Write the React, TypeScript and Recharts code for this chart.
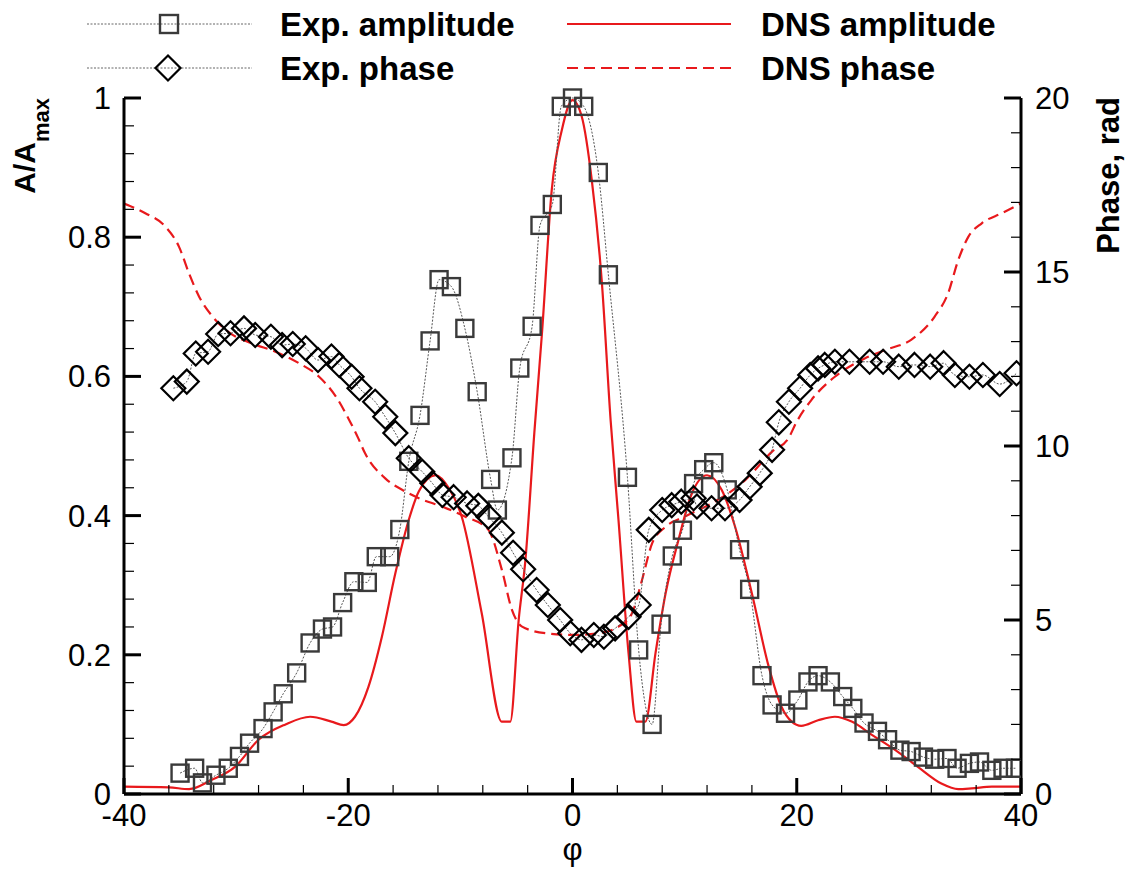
import { ComposedChart, Line, XAxis, YAxis, Legend } from 'recharts';

if (typeof document !== 'undefined') document.body.style.margin = '0';

const FONT = "'Liberation Sans', Arial, Helvetica, sans-serif";
const RED = '#e8191c';

// Exp. amplitude (squares), A/Amax
const expAmpX = [
  -35.0, -33.7, -33.0, -31.8, -30.7, -29.7, -28.8, -27.6, -26.7, -25.8, -24.6, -23.4, -22.3, -21.4,
  -20.5, -19.5, -18.3, -17.5, -16.3, -15.4, -14.6, -13.6, -12.7, -11.9, -10.8, -9.6, -8.5, -7.3,
  -6.7, -5.4, -4.7, -3.6, -2.9, -1.8, -1.0, 0.0, 1.0, 2.3, 3.2, 4.9, 5.9, 7.1, 7.9, 8.9, 9.8, 10.8,
  11.7, 12.6, 13.8, 14.9, 15.8, 16.9, 17.8, 19.0, 20.1, 21.0, 21.9, 23.0, 24.1, 25.0, 26.0, 27.2,
  28.1, 29.2, 30.2, 31.3, 32.3, 33.4, 34.3, 35.4, 36.3, 37.4, 38.4, 39.5,
];
const expAmpY = [
  0.03, 0.037, 0.016, 0.027, 0.037, 0.054, 0.073, 0.094, 0.118, 0.144, 0.174, 0.217, 0.237, 0.24,
  0.275, 0.305, 0.304, 0.341, 0.341, 0.38, 0.478, 0.544, 0.651, 0.739, 0.729, 0.669, 0.578, 0.452,
  0.408, 0.483, 0.612, 0.672, 0.817, 0.847, 0.988, 1.0, 0.988, 0.893, 0.746, 0.455, 0.207, 0.1,
  0.244, 0.342, 0.379, 0.446, 0.466, 0.476, 0.437, 0.351, 0.294, 0.17, 0.128, 0.116, 0.135, 0.161,
  0.17, 0.161, 0.14, 0.123, 0.102, 0.09, 0.078, 0.063, 0.061, 0.053, 0.05, 0.051, 0.037, 0.044,
  0.046, 0.034, 0.037, 0.037,
];

// Exp. phase (diamonds), rad
const expPhaseX = [
  -35.6, -34.4, -33.6, -32.5, -31.6, -30.5, -29.3, -28.3, -26.9, -25.9, -24.95, -23.8, -22.7,
  -21.5, -20.8, -19.7, -19.0, -17.6, -16.7, -15.8, -14.6, -13.4, -12.5, -11.6, -10.6, -9.4, -8.4,
  -7.5, -6.3, -5.3, -4.4, -3.2, -2.2, -1.1, -0.2, 0.8, 1.9, 2.8, 3.8, 5.0, 5.9, 6.8, 8.0, 8.85,
  9.7, 10.8, 11.1, 12.4, 13.6, 14.9, 15.8, 16.7, 17.8, 18.4, 19.3, 20.3, 21.2, 21.9, 22.5, 23.4,
  24.7, 26.5, 27.7, 29.1, 30.5, 31.9, 33.1, 34.1, 35.4, 36.6, 38.1, 39.6,
];
const expPhaseY = [
  11.66, 11.85, 12.66, 12.71, 13.22, 13.24, 13.38, 13.19, 13.14, 12.9, 12.93, 12.81, 12.47, 12.57,
  12.33, 11.99, 11.66, 11.27, 10.84, 10.37, 9.65, 9.26, 8.93, 8.59, 8.53, 8.35, 8.28, 7.97, 7.51,
  6.93, 6.46, 5.86, 5.43, 5.0, 4.62, 4.43, 4.57, 4.52, 4.76, 5.09, 5.43, 7.59, 8.16, 8.3, 8.4, 8.5,
  8.26, 8.21, 8.21, 8.45, 8.83, 9.22, 9.89, 10.68, 11.27, 11.66, 12.04, 12.23, 12.33, 12.42, 12.42,
  12.42, 12.42, 12.28, 12.33, 12.28, 12.38, 12.04, 11.99, 12.04, 11.78, 12.09,
];

// DNS amplitude (solid red), A/Amax
const dnsAmpX = [
  -40, -36, -34.2, -32.2, -30.1, -28, -25.6, -23.4, -21.5, -20.4, -19.4, -18.2, -17.0, -15.8, -14.6,
  -13.7, -12.2, -11.05, -9.87, -8.1, -6.3, -5.55, -4.8, -4.2, -3.4, -2.7, -1.85, -0.95, 0, 0.83,
  1.72, 2.6, 3.4, 4.1, 5.0, 5.7, 6.5, 7.4, 8.3, 9.45, 10.6, 12.0, 13.3, 14.5, 16.0, 17.5, 18.65,
  19.55, 20.4, 21.9, 23.4, 24.9, 26.7, 28.8, 30.8, 32.9, 34.4, 35.6, 37.4, 40,
];
const dnsAmpY = [
  0.0105, 0.0095, 0.007, 0.02, 0.039, 0.078, 0.1, 0.111, 0.104, 0.099, 0.111, 0.154, 0.226, 0.317,
  0.394, 0.435, 0.458, 0.44, 0.398, 0.26, 0.104, 0.104, 0.25, 0.336, 0.52, 0.667, 0.868, 0.954,
  0.997, 0.973, 0.882, 0.739, 0.537, 0.394, 0.202, 0.104, 0.104, 0.202, 0.288, 0.365, 0.43, 0.458,
  0.437, 0.384, 0.288, 0.183, 0.125, 0.104, 0.098, 0.106, 0.111, 0.104, 0.085, 0.063, 0.039, 0.015,
  0.007, 0.008, 0.0105, 0.0105,
];

// DNS phase (dashed red), rad
const dnsPhaseX = [
  -40, -38.1, -36.3, -35.1, -34.2, -33.3, -32.1, -30.7, -28.6, -26.5, -24.4, -22.6, -21.1, -20.0,
  -19.1, -18.5, -16.7, -14.9, -13.7, -11.65, -9.56, -7.5, -6.3, -5.4, -4.5, -2.4, 0, 2.3, 4.1, 5.3,
  6.2, 7.1, 8.3, 10.0, 11.2, 12.4, 15.4, 17.8, 19.25, 20.0, 21.3, 23.4, 26.1, 27.9, 30.2, 32.3,
  33.5, 34.4, 35.3, 36.5, 38.3, 40,
];
const dnsPhaseY = [
  16.97, 16.69, 16.3, 15.73, 14.96, 14.29, 13.72, 13.28, 12.95, 12.71, 12.38, 11.99, 11.42, 10.8,
  10.22, 9.79, 9.07, 8.69, 8.5, 8.26, 7.97, 7.59, 6.44, 5.29, 4.81, 4.62, 4.57, 4.62, 4.81, 5.19,
  6.15, 7.2, 7.68, 7.97, 8.16, 8.35, 9.02, 9.84, 10.22, 10.7, 11.32, 11.99, 12.52, 12.76, 13.05,
  13.72, 14.39, 15.34, 16.01, 16.4, 16.69, 16.97,
];

const xTicks = [-40, -36, -32, -28, -24, -20, -16, -12, -8, -4, 0, 4, 8, 12, 16, 20, 24, 28, 32, 36, 40];
const xLabels = [-40, -20, 0, 20, 40];
const ampTicks = Array.from({ length: 26 }, (_, i) => Math.round(i * 4) / 100);
const ampLabels = ['0', '0.2', '0.4', '0.6', '0.8', '1'];
const phaseTicks = Array.from({ length: 21 }, (_, i) => i);
const phaseLabels = ['0', '5', '10', '15', '20'];

const zip = (xs: number[], ys: number[]) => xs.map((x, i) => ({ x, y: ys[i] }));
const expAmp = zip(expAmpX, expAmpY);
const expPhase = zip(expPhaseX, expPhaseY);
const dnsAmp = zip(dnsAmpX, dnsAmpY);
const dnsPhase = zip(dnsPhaseX, dnsPhaseY);

const XTick = ({ x, y, payload }: any) => {
  const v = payload.value;
  const major = xLabels.includes(v);
  return (
    <g>
      <line x1={x} x2={x} y1={y} y2={y - (major ? 16 : 9)} stroke="#000" strokeWidth={major ? 3 : 1.2} />
      {major && (
        <text x={x} y={y + 32} textAnchor="middle" fontSize={31} fontFamily={FONT} fill="#000">
          {v}
        </text>
      )}
    </g>
  );
};

const AmpTick = ({ x, y, payload }: any) => {
  const k = Math.round(payload.value * 100) / 4;
  const major = k % 5 === 0;
  return (
    <g>
      <line x1={x} x2={x + (major ? 17 : 10)} y1={y} y2={y} stroke="#000" strokeWidth={major ? 3 : 1.2} />
      {major && (
        <text x={x - 13} y={y + 11} textAnchor="end" fontSize={31} fontFamily={FONT} fill="#000">
          {ampLabels[k / 5]}
        </text>
      )}
    </g>
  );
};

const PhaseTick = ({ x, y, payload }: any) => {
  const v = payload.value;
  const major = v % 5 === 0;
  return (
    <g>
      <line x1={x} x2={x - (major ? 17 : 10)} y1={y} y2={y} stroke="#000" strokeWidth={major ? 3 : 1.2} />
      {major && (
        <text x={x + 14} y={y + 11} textAnchor="start" fontSize={31} fontFamily={FONT} fill="#000">
          {phaseLabels[v / 5]}
        </text>
      )}
    </g>
  );
};

const Square = ({ cx, cy, s = 17 }: any) => (
  <rect x={cx - s / 2} y={cy - s / 2} width={s} height={s} fill="none" stroke="#3a3a3a" strokeWidth={2.4} />
);
const Diamond = ({ cx, cy, r = 12 }: any) => (
  <polygon
    points={`${cx},${cy - r} ${cx + r},${cy} ${cx},${cy + r} ${cx - r},${cy}`}
    fill="none"
    stroke="#000"
    strokeWidth={2.2}
  />
);

const renderSquare = (p: any) => <Square key={`s${p.index}`} cx={p.cx} cy={p.cy} />;
const renderDiamond = (p: any) => <Diamond key={`d${p.index}`} cx={p.cx} cy={p.cy} />;

const LegendBox = () => (
  <svg width={1128} height={90} style={{ display: 'block' }}>
    <g fontFamily={FONT} fontWeight="bold" fontSize={33} fill="#000">
      <line x1={87} x2={252} y1={24} y2={24} stroke="#666" strokeWidth={1} strokeDasharray="2 1.5" />
      <Square cx={169} cy={24} s={18} />
      <text x={280} y={36}>Exp. amplitude</text>
      <line x1={87} x2={252} y1={68} y2={68} stroke="#666" strokeWidth={1} strokeDasharray="2 1.5" />
      <Diamond cx={168} cy={68} r={12.5} />
      <text x={280} y={80}>Exp. phase</text>
      <line x1={567} x2={731} y1={24} y2={24} stroke={RED} strokeWidth={2.2} />
      <text x={761} y={36}>DNS amplitude</text>
      <line x1={567} x2={731} y1={68} y2={68} stroke={RED} strokeWidth={2.2} strokeDasharray="11 6" />
      <text x={761} y={80}>DNS phase</text>
    </g>
  </svg>
);

const AmpTitle = () => (
  <text
    transform="translate(35,98) rotate(-90)"
    textAnchor="end"
    fontFamily={FONT}
    fontWeight="bold"
    fontSize={30}
    fill="#000"
  >
    A/A
    <tspan fontSize={22} dy={14}>
      max
    </tspan>
  </text>
);

const PhaseTitle = () => (
  <text
    transform="translate(1119,97) rotate(-90)"
    textAnchor="end"
    fontFamily={FONT}
    fontWeight="bold"
    fontSize={31}
    fill="#000"
  >
    Phase, rad
  </text>
);

const PhiLabel = ({ viewBox }: any) => (
  <text
    x={viewBox.x + viewBox.width / 2}
    y={viewBox.y + 66}
    textAnchor="middle"
    fontSize={31}
    fontFamily={FONT}
    fill="#000"
  >
    φ
  </text>
);

export default function App() {
  return (
    <ComposedChart
      width={1128}
      height={871}
      margin={{ top: 8, right: 47, bottom: 27, left: 64 }}
      style={{ fontFamily: FONT }}
    >
      <Legend verticalAlign="top" align="left" wrapperStyle={{ top: 0, left: 0 }} content={<LegendBox />} />
      <XAxis
        type="number"
        dataKey="x"
        domain={[-40, 40]}
        ticks={xTicks}
        allowDataOverflow
        height={50}
        axisLine={{ stroke: '#000', strokeWidth: 3 }}
        tickLine={false}
        tickSize={0}
        tickMargin={0}
        tick={<XTick />}
        interval={0}
        label={<PhiLabel />}
      />
      <YAxis
        yAxisId="amp"
        type="number"
        domain={[0, 1]}
        ticks={ampTicks}
        width={60}
        axisLine={{ stroke: '#000', strokeWidth: 3 }}
        tickLine={false}
        tickSize={0}
        tickMargin={0}
        tick={<AmpTick />}
        interval={0}
        label={<AmpTitle />}
      />
      <YAxis
        yAxisId="phase"
        orientation="right"
        type="number"
        domain={[0, 20]}
        ticks={phaseTicks}
        width={60}
        axisLine={{ stroke: '#000', strokeWidth: 3 }}
        tickLine={false}
        tickSize={0}
        tickMargin={0}
        tick={<PhaseTick />}
        interval={0}
        label={<PhaseTitle />}
      />
      <Line
        yAxisId="phase"
        data={dnsPhase}
        dataKey="y"
        type="monotone"
        stroke={RED}
        strokeWidth={2.2}
        strokeDasharray="11 6"
        dot={false}
        isAnimationActive={false}
      />
      <Line
        yAxisId="amp"
        data={dnsAmp}
        dataKey="y"
        type="monotone"
        stroke={RED}
        strokeWidth={2.2}
        dot={false}
        isAnimationActive={false}
      />
      <Line
        yAxisId="amp"
        data={expAmp}
        dataKey="y"
        type="monotone"
        stroke="#555"
        strokeWidth={1}
        strokeDasharray="2 1.5"
        dot={renderSquare}
        isAnimationActive={false}
      />
      <Line
        yAxisId="phase"
        data={expPhase}
        dataKey="y"
        type="monotone"
        stroke="#555"
        strokeWidth={1}
        strokeDasharray="2 1.5"
        dot={renderDiamond}
        isAnimationActive={false}
      />
    </ComposedChart>
  );
}
